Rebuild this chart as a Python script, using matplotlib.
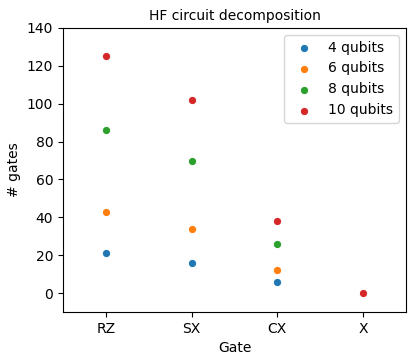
import matplotlib
matplotlib.use("Agg")
import matplotlib.pyplot as plt

gates = ["RZ", "SX", "CX", "X"]
series_labels = ["4 qubits", "6 qubits", "8 qubits", "10 qubits"]
q4 = [21, 16, 6, 0]
q6 = [43, 34, 12, 0]
q8 = [86, 70, 26, 0]
q10 = [125, 102, 38, 0]
values = [q4, q6, q8, q10]
colors = ["#1f77b4", "#ff7f0e", "#2ca02c", "#d62728"]

fig = plt.figure(figsize=(4.16, 3.63), dpi=100)
ax = fig.add_axes([63/416, 1-312/363, (406-63)/416, (312-28)/363])
x = list(range(len(gates)))
for lab, vals, c in zip(series_labels, values, colors):
    ax.scatter(x, vals, s=36, color=c, edgecolor="white", linewidth=0.75, label=lab, zorder=3)
ax.set_xticks(x)
ax.set_xticklabels(gates)
ax.set_xlim(-0.5, 3.5)
ax.set_ylim(-10, 140)
ax.set_yticks(range(0, 141, 20))
ax.set_xlabel("Gate")
ax.set_ylabel("# gates")
ax.set_title("HF circuit decomposition", fontsize=10)
ax.legend(loc="upper right")
fig.savefig("out.png", dpi=100)
